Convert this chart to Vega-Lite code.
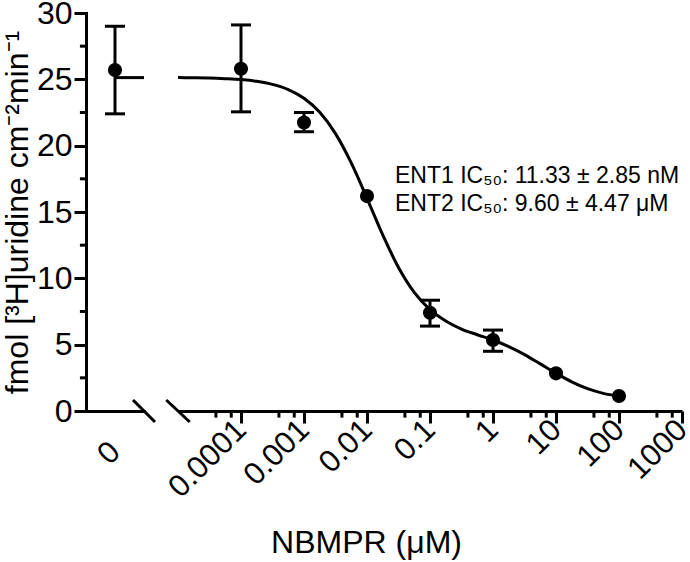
{
  "$schema": "https://vega.github.io/schema/vega-lite/v6.json",
  "padding": {"left": 1, "top": -3, "right": 2, "bottom": 2},
  "background": "white",
  "spacing": 34,
  "bounds": "flush",
  "config": {
    "view": {"stroke": null},
    "font": "Liberation Sans",
    "axis": {
      "domainColor": "black", "domainWidth": 3, "tickColor": "black", "tickWidth": 3,
      "labelColor": "black", "titleColor": "black", "labelFont": "Liberation Sans",
      "titleFont": "Liberation Sans", "titleFontWeight": "normal", "grid": false,
      "labelOverlap": false, "labelBound": false, "labelFlush": false
    }
  },
  "datasets": {
    "one": [{"k": 1}],
    "zero": [{"c": 0, "m": 25.7, "lo": 22.4, "hi": 29.0}],
    "zline": [{"c": 0, "y": 25.13}, {"c": 1, "y": 25.13}],
    "yminor": [{"v": 2.5}, {"v": 7.5}, {"v": 12.5}, {"v": 17.5}, {"v": 22.5}, {"v": 27.5}],
    "xminor": [
      {"v": 0.00004}, {"v": 0.00007}, {"v": 0.0004}, {"v": 0.0007}, {"v": 0.004}, {"v": 0.007},
      {"v": 0.04}, {"v": 0.07}, {"v": 0.4}, {"v": 0.7}, {"v": 4}, {"v": 7}, {"v": 40}, {"v": 70},
      {"v": 400}, {"v": 700}
    ],
    "pts": [
      {"c": 0.0001, "m": 25.8},
      {"c": 0.001, "m": 21.75},
      {"c": 0.01, "m": 16.2},
      {"c": 0.1, "m": 7.4},
      {"c": 1, "m": 5.35},
      {"c": 10, "m": 2.84},
      {"c": 100, "m": 1.13}
    ],
    "err": [
      {"c": 0.0001, "lo": 22.55, "hi": 29.1},
      {"c": 0.001, "lo": 21.05, "hi": 22.5},
      {"c": 0.1, "lo": 6.4, "hi": 8.35},
      {"c": 1, "lo": 4.5, "hi": 6.1}
    ],
    "curve": [
      {"c": 0.00001, "y": 25.13}, {"c": 0.00001778, "y": 25.12}, {"c": 0.00003162, "y": 25.10},
      {"c": 0.00005623, "y": 25.05}, {"c": 0.0001, "y": 24.98}, {"c": 0.0001778, "y": 24.85},
      {"c": 0.0003162, "y": 24.62}, {"c": 0.0005623, "y": 24.23}, {"c": 0.001, "y": 23.57},
      {"c": 0.001778, "y": 22.51}, {"c": 0.003162, "y": 20.91}, {"c": 0.005623, "y": 18.70},
      {"c": 0.01, "y": 16.03}, {"c": 0.01778, "y": 13.27}, {"c": 0.03162, "y": 10.82},
      {"c": 0.05623, "y": 8.94}, {"c": 0.1, "y": 7.64}, {"c": 0.1778, "y": 6.79},
      {"c": 0.3162, "y": 6.18}, {"c": 0.5623, "y": 5.75}, {"c": 1, "y": 5.35},
      {"c": 1.778, "y": 4.85}, {"c": 3.162, "y": 4.25}, {"c": 5.623, "y": 3.55},
      {"c": 10, "y": 2.85}, {"c": 17.78, "y": 2.2}, {"c": 31.62, "y": 1.68},
      {"c": 56.23, "y": 1.33}, {"c": 100, "y": 1.12}
    ],
    "ann": [
      {"t": "ENT1 IC₅₀: 11.33 ± 2.85 nM", "x": 0.0278, "y": 17.7},
      {"t": "ENT2 IC₅₀: 9.60 ± 4.47 μM", "x": 0.0278, "y": 15.6}
    ]
  },
  "hconcat": [
    {
      "width": 58,
      "height": 398,
      "layer": [
        {
          "data": {"name": "zline"},
          "mark": {"type": "line", "color": "black", "strokeWidth": 3},
          "encoding": {
            "x": {
              "field": "c", "type": "quantitative",
              "scale": {"domain": [-1, 1], "nice": false, "zero": false},
              "axis": {
                "values": [0], "title": null, "labelAngle": -45, "labelAlign": "right",
                "labelBaseline": "middle", "labelFontSize": 31, "tickSize": 12,
                "tickColor": "transparent", "labelPadding": 24, "domainCap": "square"
              }
            },
            "y": {
              "field": "y", "type": "quantitative",
              "scale": {"domain": [0, 30], "nice": false},
              "axis": {
                "values": [0, 5, 10, 15, 20, 25, 30],
                "title": "fmol [³H]uridine cm⁻²min⁻¹",
                "titleFontSize": 32, "labelFontSize": 32, "tickSize": 12,
                "labelPadding": 2, "titlePadding": 2, "domainCap": "square"
              }
            }
          }
        },
        {
          "data": {"name": "yminor"},
          "mark": {"type": "rule", "color": "black", "strokeWidth": 3},
          "encoding": {
            "y": {"field": "v", "type": "quantitative"},
            "x": {"datum": -1.21},
            "x2": {"datum": -1}
          }
        },
        {
          "data": {"name": "zero"},
          "mark": {"type": "rule", "color": "black", "strokeWidth": 3},
          "encoding": {
            "x": {"field": "c", "type": "quantitative"},
            "y": {"field": "lo", "type": "quantitative"},
            "y2": {"field": "hi"}
          }
        },
        {
          "data": {"name": "zero"},
          "mark": {"type": "tick", "orient": "horizontal", "color": "black", "opacity": 1, "size": 20, "thickness": 3},
          "encoding": {
            "x": {"field": "c", "type": "quantitative"},
            "y": {"field": "lo", "type": "quantitative"}
          }
        },
        {
          "data": {"name": "zero"},
          "mark": {"type": "tick", "orient": "horizontal", "color": "black", "opacity": 1, "size": 20, "thickness": 3},
          "encoding": {
            "x": {"field": "c", "type": "quantitative"},
            "y": {"field": "hi", "type": "quantitative"}
          }
        },
        {
          "data": {"name": "zero"},
          "mark": {"type": "circle", "color": "black", "opacity": 1, "size": 200},
          "encoding": {
            "x": {"field": "c", "type": "quantitative"},
            "y": {"field": "m", "type": "quantitative"}
          }
        },
        {
          "data": {"name": "one"},
          "mark": {"type": "rule", "color": "black", "strokeWidth": 3},
          "encoding": {
            "x": {"datum": 0.62},
            "x2": {"datum": 1.38},
            "y": {"datum": 0.83},
            "y2": {"datum": -0.83}
          }
        }
      ]
    },
    {
      "width": 504,
      "height": 398,
      "layer": [
        {
          "data": {"name": "curve"},
          "mark": {"type": "line", "color": "black", "strokeWidth": 3, "interpolate": "monotone"},
          "encoding": {
            "x": {
              "field": "c", "type": "quantitative",
              "scale": {"type": "log", "domain": [0.00001, 1000], "nice": false},
              "axis": {
                "values": [0.0001, 0.001, 0.01, 0.1, 1, 10, 100, 1000],
                "title": "NBMPR (μM)", "titleFontSize": 32, "titleX": 188, "titleY": 141,
                "titleBaseline": "alphabetic",
                "labelExpr": "toString(datum.value)",
                "tickSize": 12,
                "labelAngle": -45, "labelAlign": "right", "labelBaseline": "middle",
                "labelFontSize": 31, "labelPadding": 2
              }
            },
            "y": {
              "field": "y", "type": "quantitative",
              "scale": {"domain": [0, 30], "nice": false},
              "axis": null
            }
          }
        },
        {
          "data": {"name": "xminor"},
          "mark": {"type": "rule", "color": "black", "strokeWidth": 3},
          "encoding": {
            "x": {"field": "v", "type": "quantitative"},
            "y": {"datum": 0},
            "y2": {"datum": -0.5}
          }
        },
        {
          "data": {"name": "err"},
          "mark": {"type": "rule", "color": "black", "strokeWidth": 3},
          "encoding": {
            "x": {"field": "c", "type": "quantitative"},
            "y": {"field": "lo", "type": "quantitative"},
            "y2": {"field": "hi"}
          }
        },
        {
          "data": {"name": "err"},
          "mark": {"type": "tick", "orient": "horizontal", "color": "black", "opacity": 1, "size": 20, "thickness": 3},
          "encoding": {
            "x": {"field": "c", "type": "quantitative"},
            "y": {"field": "lo", "type": "quantitative"}
          }
        },
        {
          "data": {"name": "err"},
          "mark": {"type": "tick", "orient": "horizontal", "color": "black", "opacity": 1, "size": 20, "thickness": 3},
          "encoding": {
            "x": {"field": "c", "type": "quantitative"},
            "y": {"field": "hi", "type": "quantitative"}
          }
        },
        {
          "data": {"name": "pts"},
          "mark": {"type": "circle", "color": "black", "opacity": 1, "size": 200},
          "encoding": {
            "x": {"field": "c", "type": "quantitative"},
            "y": {"field": "m", "type": "quantitative"}
          }
        },
        {
          "data": {"name": "one"},
          "mark": {"type": "rule", "color": "black", "strokeWidth": 3},
          "encoding": {
            "x": {"datum": 0.00000652},
            "x2": {"datum": 0.00001534},
            "y": {"datum": 0.83},
            "y2": {"datum": -0.83}
          }
        },
        {
          "data": {"name": "ann"},
          "mark": {"type": "text", "align": "left", "baseline": "middle", "fontSize": 23, "color": "black", "font": "Liberation Sans"},
          "encoding": {
            "x": {"field": "x", "type": "quantitative"},
            "y": {"field": "y", "type": "quantitative"},
            "text": {"field": "t"}
          }
        }
      ]
    }
  ]
}
